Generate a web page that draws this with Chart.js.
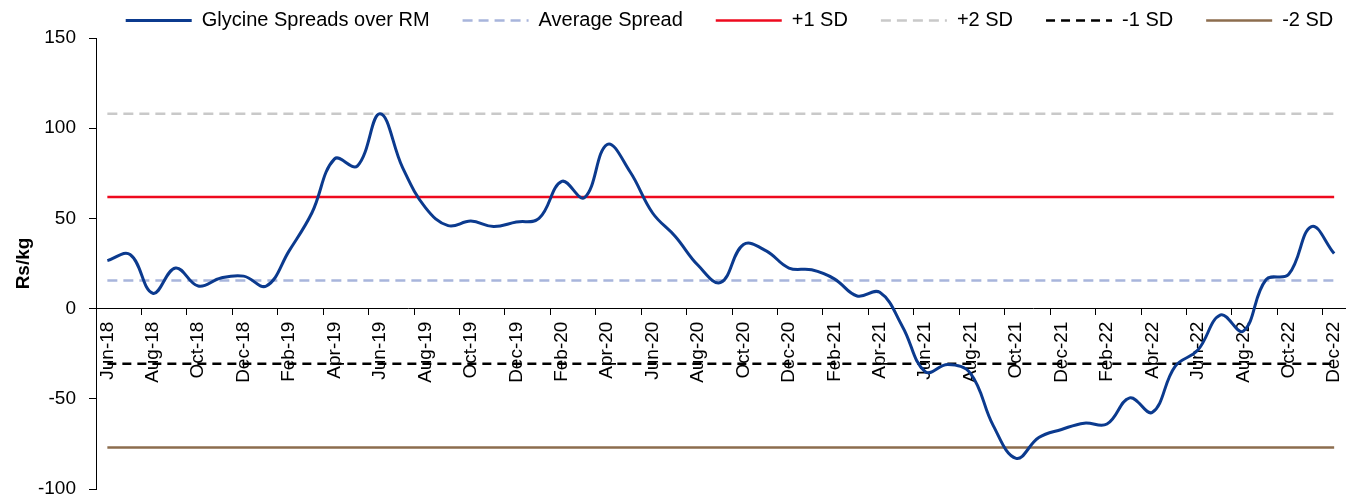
<!DOCTYPE html>
<html>
<head>
<meta charset="utf-8">
<script src="https://cdn.jsdelivr.net/npm/chart.js@4/dist/chart.umd.min.js"></script>
<style>
  html, body { margin: 0; padding: 0; background: #fff; }
  #wrap { width: 1364px; height: 499px; }
</style>
</head>
<body>
<div id="wrap"><canvas id="graph"></canvas></div>
<script>
const months = [
  "Jun-18", "Jul-18", "Aug-18", "Sep-18", "Oct-18", "Nov-18", "Dec-18",
  "Jan-19", "Feb-19", "Mar-19", "Apr-19", "May-19", "Jun-19", "Jul-19", "Aug-19", "Sep-19", "Oct-19", "Nov-19", "Dec-19",
  "Jan-20", "Feb-20", "Mar-20", "Apr-20", "May-20", "Jun-20", "Jul-20", "Aug-20", "Sep-20", "Oct-20", "Nov-20", "Dec-20",
  "Jan-21", "Feb-21", "Mar-21", "Apr-21", "May-21", "Jun-21", "Jul-21", "Aug-21", "Sep-21", "Oct-21", "Nov-21", "Dec-21",
  "Jan-22", "Feb-22", "Mar-22", "Apr-22", "May-22", "Jun-22", "Jul-22", "Aug-22", "Sep-22", "Oct-22", "Nov-22", "Dec-22"
];

// Rs/kg, one per month
const glycineSpread = [
  26.6, 30, 8.5, 22.5, 12.5, 17, 18,
  12.5, 32, 53, 83, 79, 108, 78, 56, 46, 48.5, 45.5, 48,
  50, 70.5, 61.5, 91, 76, 53, 40, 24, 14.5, 35.5, 32, 22.5,
  21.5, 16.5, 7, 9, -10, -35, -31, -36, -65, -83, -71.5, -67,
  -63.5, -64, -49.5, -57.5, -32, -23, -3.5, -12.5, 16, 19, 45.5, 30.5
];

const averageSpread = 15.6;
const plus1SD = 61.8;
const plus2SD = 108;
const minus1SD = -30.6;
const minus2SD = -77;

const yTicks = { min: -100, max: 150, step: 50 };

const FONT = "'Liberation Sans', Arial, sans-serif";

function flat(v) {
  return months.map(() => v);
}

function refLine(label, value, color, dash) {
  return {
    label: label,
    data: flat(value),
    borderColor: color,
    backgroundColor: color,
    borderWidth: 2.5,
    borderDash: dash || [],
    pointRadius: 0,
    tension: 0,
    fill: false,
  };
}

// legend: wide item gaps but a short box, nudged up and over the plot centre
const legendFix = {
  id: "legendFix",
  beforeLayout(chart) {
    const lg = chart.legend;
    if (lg && !lg._fitWrapped) {
      const fit = lg.fit;
      lg.fit = function () {
        fit.call(this);
        this.height = 38;
      };
      lg._fitWrapped = true;
    }
  },
  afterLayout(chart) {
    const lg = chart.legend;
    if (lg) {
      lg.top -= 22.5;
      lg.left += 50;
      lg.right += 50;
    }
  },
};

const ctx = document.getElementById("graph").getContext("2d");

new Chart(ctx, {
  type: "line",
  data: {
    labels: months,
    datasets: [
      {
        label: "Glycine Spreads over RM",
        data: glycineSpread,
        borderColor: "#0b3a8e",
        backgroundColor: "#0b3a8e",
        borderWidth: 3,
        pointRadius: 0,
        tension: 0.4,
        fill: false,
      },
      refLine("Average Spread", averageSpread, "#a8b5dc", [10, 6]),
      refLine("+1 SD", plus1SD, "#ee0a1e"),
      refLine("+2 SD", plus2SD, "#c9c9c9", [10, 6]),
      refLine("-1 SD", minus1SD, "#000000", [9, 6]),
      refLine("-2 SD", minus2SD, "#8c6d4e"),
    ],
  },
  options: {
    responsive: true,
    maintainAspectRatio: false,
    animation: false,
    layout: { padding: { left: 0, right: 5, top: 0, bottom: 10 } },
    plugins: {
      legend: {
        position: "top",
        fullSize: true,
        labels: {
          usePointStyle: true,
          pointStyle: "line",
          pointStyleWidth: 66,
          padding: 33,
          color: "#000",
          font: { family: FONT, size: 20 },
          generateLabels(chart) {
            const items = Chart.defaults.plugins.legend.labels.generateLabels(chart);
            items.forEach((it) => {
              const ds = chart.data.datasets[it.datasetIndex];
              it.lineDash = ds.borderDash || [];
              it.lineWidth = ds.borderWidth;
              it.strokeStyle = ds.borderColor;
            });
            return items;
          },
        },
      },
      tooltip: { enabled: false },
    },
    scales: {
      x: {
        type: "category",
        offset: true,
        position: { y: 0 },
        grid: {
          offset: true,
          drawOnChartArea: false,
          drawTicks: true,
          tickLength: 6,
          tickColor: (c) => (c.index % 2 === 0 ? "#000" : "rgba(0,0,0,0)"),
        },
        border: { color: "#000", width: 1 },
        ticks: {
          autoSkip: false,
          minRotation: 90,
          maxRotation: 90,
          padding: 7,
          color: "#000",
          font: { family: FONT, size: 19 },
          callback: function (val, i) {
            return i % 2 === 0 ? this.getLabelForValue(val) : "";
          },
        },
      },
      y: {
        min: yTicks.min,
        max: yTicks.max,
        afterFit(scale) {
          scale.width = 96;
          scale.paddingTop = 0;
          scale.paddingBottom = 0;
        },
        grid: {
          drawOnChartArea: false,
          drawTicks: true,
          tickLength: 7,
          tickColor: "#000",
        },
        border: { color: "#000", width: 1 },
        ticks: {
          stepSize: yTicks.step,
          padding: 13,
          color: "#000",
          font: { family: FONT, size: 19, lineHeight: 1 },
        },
        title: {
          display: true,
          text: "Rs/kg",
          color: "#000",
          padding: { top: 12, bottom: 0 },
          font: { family: FONT, size: 19, weight: "bold" },
        },
      },
    },
  },
  plugins: [legendFix],
});
</script>
</body>
</html>
